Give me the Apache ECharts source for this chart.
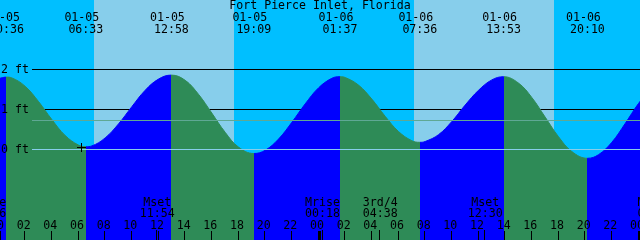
<!DOCTYPE html>
<html><head><meta charset="utf-8">
<script src="https://cdn.jsdelivr.net/npm/echarts@6/dist/echarts.min.js"></script>
<style>html,body{margin:0;padding:0;background:#00BFFF}#c{width:640px;height:240px}</style>
</head><body><div id="c"></div>
<script>
// ---------- data ----------
const chartTitle = 'Fort Pierce Inlet, Florida';
const baseDay = 5; // hours are counted from 01-05 00:00

// tide events
const tideDate = ['01-05','01-05','01-05','01-05','01-06','01-06','01-06','01-06'];
const tideTime = ['00:36','06:33','12:58','19:09','01:37','07:36','13:53','20:10'];
const tideKind = ['High','Low','High','Low','High','Low','High','Low'];
const tideFeet = [1.81, 0.07, 1.86, -0.10, 1.82, 0.18, 1.82, -0.22];

// water level, hours from 01-05 00:00
const readHour = [0,1,2,3,4,5,6,7,8,9,10,11,12,14,15,16,17,18,20,21,22,23,24,25,26,27,28,29,30,31,32,33,34,35,36,37,39,40,41,42,43,45,46,47,48,49];
const readFeet = [1.77,1.79,1.58,1.20,0.75,0.35,0.11,0.09,0.29,0.64,1.07,1.48,1.76,1.73,1.38,0.91,0.43,0.06,-0.02,0.26,0.68,1.14,1.54,1.78,1.80,1.61,1.26,0.83,0.45,0.22,0.20,0.37,0.70,1.11,1.48,1.74,1.66,1.30,0.81,0.32,-0.05,-0.13,0.18,0.65,1.15,1.56];

// sun
const sunriseDate = ['01-05','01-06'];
const sunriseTime = ['07:10','07:10'];
const sunsetDate = ['01-05','01-06'];
const sunsetTime = ['17:40','17:40'];

// moon
const moonDate  = ['01-04','01-05','01-06','01-06','01-06','01-07'];
const moonTime  = ['23:16','11:54','00:18','04:38','12:30','01:14'];
const moonLabel = ['Mrise','Mset','Mrise','3rd/4','Mset','Mrise'];

// axes
const yTickFeet = [0, 1, 2];
const yTickLabel = ['0 ft', '1 ft', '2 ft'];
const meanLevelFeet = 0.73;
const hourTicks = [0,2,4,6,8,10,12,14,16,18,20,22,24,26,28,30,32,34,36,38,40,42,44,46,48];
const markerDate = '01-05', markerTime = '06:11', markerFeet = 0.06;

// ---------- helpers ----------
function toHour(d, t) {
  const day = parseInt(d.slice(3), 10) - baseDay;
  const p = t.split(':');
  return day * 24 + parseInt(p[0], 10) + parseInt(p[1], 10) / 60;
}
const tideHour = tideTime.map((t, i) => toHour(tideDate[i], t));
const moonHour = moonTime.map((t, i) => toHour(moonDate[i], t));
const sunriseHour = sunriseTime.map((t, i) => toHour(sunriseDate[i], t));
const sunsetHour = sunsetTime.map((t, i) => toHour(sunsetDate[i], t));

const NIGHT = '#00BFFF', DAY = '#87CEEB', FLOOD = '#0000FF', EBB = '#2E8B57';
const FONT = '11.6px "DejaVu Sans Mono"';

// curve points: readings + events, sorted
const curve = readHour.map((h, i) => [h, readFeet[i]])
  .concat(tideHour.map((h, i) => [h, tideFeet[i]]))
  .sort((a, b) => a[0] - b[0]);

// rising/falling pieces
const pieces = [];
tideHour.forEach((h, i) => {
  const before = tideKind[i] === 'High' ? FLOOD : EBB;
  if (i === 0) pieces.push({ lt: h, color: before });
  else pieces.push({ gte: tideHour[i - 1], lt: h, color: before });
});
const last = tideHour.length - 1;
pieces.push({ gte: tideHour[last], color: tideKind[last] === 'High' ? EBB : FLOOD });

// sky intervals
const sky = [];
let prev = -2;
sunriseHour.forEach((r, i) => {
  sky.push([prev, r, 0]);
  sky.push([r, sunsetHour[i], 1]);
  prev = sunsetHour[i];
});
sky.push([prev, 52, 0]);

const pad = n => (n < 10 ? '0' : '') + n;

const chart = echarts.init(document.getElementById('c'));
chart.setOption({
  animation: false,
  backgroundColor: NIGHT,
  title: {
    text: chartTitle, left: 'center', top: 0, padding: 0,
    textStyle: { fontFamily: 'DejaVu Sans Mono', fontSize: 11.6, fontWeight: 'normal', color: '#000', lineHeight: 12 }
  },
  grid: { left: 0, right: 0, top: 0, bottom: 0 },
  xAxis: { type: 'value', min: 0.1125, max: 48.1125, show: false },
  yAxis: { type: 'value', min: -2.2625, max: 3.7375, show: false },
  visualMap: { show: false, type: 'piecewise', dimension: 0, seriesIndex: 2, pieces: pieces },
  series: [
    { // sky
      type: 'custom', z: 1, silent: true, data: sky,
      renderItem(params, api) {
        const cs = params.coordSys;
        const x0 = Math.round(api.coord([api.value(0), 0])[0]);
        const x1 = Math.round(api.coord([api.value(1), 0])[0]);
        return { type: 'rect', shape: { x: x0, y: cs.y, width: x1 - x0, height: cs.height },
          style: { fill: api.value(2) ? DAY : NIGHT } };
      }
    },
    { // black foot lines behind the water
      type: 'custom', z: 2, silent: true,
      data: yTickFeet.filter(v => v !== 0).map(v => [0, v]),
      renderItem(params, api) {
        const cs = params.coordSys;
        const y = Math.floor(api.coord([0, api.value(1)])[1]) + 0.5;
        return { type: 'line', shape: { x1: cs.x + 32, y1: y, x2: cs.x + cs.width, y2: y },
          style: { stroke: '#000', lineWidth: 1 } };
      }
    },
    { // tide
      type: 'line', z: 3, data: curve, smooth: 0.4, showSymbol: false, silent: true,
      lineStyle: { width: 1 },
      areaStyle: { opacity: 1, origin: 'start' }
    },
    { // datum & mean level lines
      type: 'custom', z: 4, silent: true,
      data: [[0, 0, 0], [0, meanLevelFeet, 1]],
      renderItem(params, api) {
        const cs = params.coordSys;
        const y = Math.floor(api.coord([0, api.value(1)])[1]) + 0.5;
        return { type: 'line', shape: { x1: cs.x + 32, y1: y, x2: cs.x + cs.width, y2: y },
          style: { stroke: api.value(2) ? '#5FA894' : '#87CEEB', lineWidth: 1 } };
      }
    },
    { // marker cross
      type: 'custom', z: 5, silent: true,
      data: [[toHour(markerDate, markerTime), markerFeet]],
      renderItem(params, api) {
        const p = api.coord([api.value(0), api.value(1)]);
        const cx = Math.round(p[0]), cy = Math.round(p[1]);
        return { type: 'group', children: [
          { type: 'rect', shape: { x: cx - 4, y: cy, width: 9, height: 1 }, style: { fill: '#000' } },
          { type: 'rect', shape: { x: cx, y: cy - 4, width: 1, height: 9 }, style: { fill: '#000' } }
        ] };
      }
    },
    { // hour ticks + labels
      type: 'custom', z: 6, silent: true,
      data: hourTicks.map(h => [h, 0]),
      renderItem(params, api) {
        const cs = params.coordSys;
        const h = api.value(0);
        const px = api.coord([h, 0])[0];
        const col = Math.floor(px - 0.5);
        const w = h % 24 === 0 ? 3 : 1;
        const bottom = cs.y + cs.height;
        return { type: 'group', children: [
          { type: 'rect', shape: { x: col, y: bottom - 9, width: w, height: 9 }, style: { fill: '#000' } },
          { type: 'text', style: { text: pad(h % 24), x: px - 1.5, y: bottom - 14.5, align: 'center', verticalAlign: 'middle', font: FONT, fill: '#000' } }
        ] };
      }
    },
    { // moon events
      type: 'custom', z: 6, silent: true,
      data: moonHour.map((h, i) => [h, i]),
      renderItem(params, api) {
        const cs = params.coordSys;
        const i = api.value(1);
        const px = api.coord([api.value(0), 0])[0];
        const col = Math.floor(px - 0.5);
        const bottom = cs.y + cs.height;
        return { type: 'group', children: [
          { type: 'rect', shape: { x: col, y: bottom - 10, width: 1, height: 10 }, style: { fill: '#000' } },
          { type: 'text', style: { text: moonLabel[i], x: px, y: bottom - 37.5, align: 'center', verticalAlign: 'middle', font: FONT, fill: '#000' } },
          { type: 'text', style: { text: moonTime[i], x: px, y: bottom - 26.5, align: 'center', verticalAlign: 'middle', font: FONT, fill: '#000' } }
        ] };
      }
    },
    { // tide event labels on top
      type: 'custom', z: 6, silent: true,
      data: tideHour.map((h, i) => [h, i]),
      renderItem(params, api) {
        const cs = params.coordSys;
        const i = api.value(1);
        const px = api.coord([api.value(0), 0])[0];
        return { type: 'group', children: [
          { type: 'text', style: { text: tideDate[i], x: px - 4, y: cs.y + 17.5, align: 'center', verticalAlign: 'middle', font: FONT, fill: '#000' } },
          { type: 'text', style: { text: tideTime[i], x: px, y: cs.y + 29.5, align: 'center', verticalAlign: 'middle', font: FONT, fill: '#000' } }
        ] };
      }
    },
    { // y labels
      type: 'custom', z: 6, silent: true,
      data: yTickFeet.map((v, i) => [0.1125, v, i]),
      renderItem(params, api) {
        const cs = params.coordSys;
        const y = Math.floor(api.coord([0, api.value(1)])[1]) + 0.5;
        return { type: 'text', style: { text: yTickLabel[api.value(2)], x: cs.x + 1, y: y, align: 'left', verticalAlign: 'middle', font: FONT, fill: '#000' } };
      }
    }
  ]
});
</script>
</body></html>
